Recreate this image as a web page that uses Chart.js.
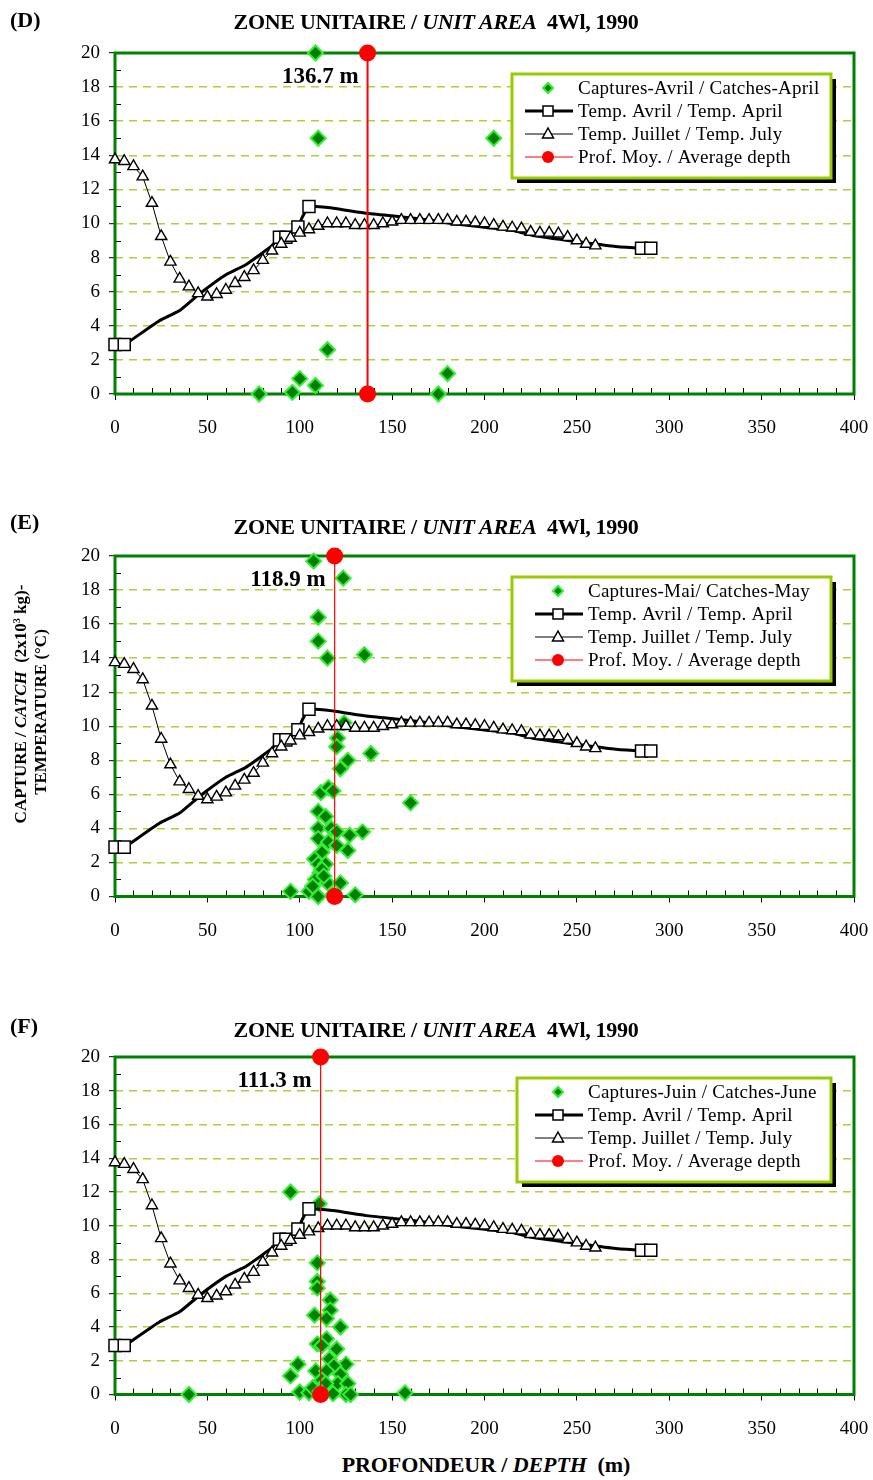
<!DOCTYPE html>
<html>
<head>
<meta charset="utf-8">
<title>Zone unitaire 4Wl, 1990</title>
<script src="https://cdn.jsdelivr.net/npm/chart.js@4/dist/chart.umd.min.js"></script>
<style>
  html, body { margin: 0; padding: 0; background: #fff; }
  #page { position: relative; width: 873px; height: 1480px; overflow: hidden;
          font-family: 'Liberation Serif', 'Times New Roman', serif; color: #000; }
  #page canvas { position: absolute; left: 0; }
  .lbl { position: absolute; white-space: nowrap; font-weight: bold; line-height: 1;
         transform: translate(-50%, -50%); z-index: 2; }
  .letter { font-size: 22px; transform: translate(0, -50%); }
  .title { font-size: 22px; letter-spacing: -0.3px; }
  .xtitle { font-size: 22px; letter-spacing: -0.1px; }
  .ytitle { font-size: 17px; transform: translate(-50%, -50%) rotate(-90deg); }
  sup { font-size: 10px; vertical-align: 6px; }
</style>
</head>
<body>
<div id="page">
  <div class="lbl letter" style="left:10px; top:20px;">(D)</div>
  <div class="lbl title" style="left:436px; top:22px;">ZONE UNITAIRE / <i>UNIT AREA</i>&nbsp; 4Wl, 1990</div>
  <canvas id="chartD" width="873" height="450" style="top:0px;"></canvas>

  <div class="lbl letter" style="left:10px; top:522px;">(E)</div>
  <div class="lbl title" style="left:436px; top:527px;">ZONE UNITAIRE / <i>UNIT AREA</i>&nbsp; 4Wl, 1990</div>
  <canvas id="chartE" width="873" height="450" style="top:500px;"></canvas>

  <div class="lbl letter" style="left:10px; top:1026px;">(F)</div>
  <div class="lbl title" style="left:436px; top:1030px;">ZONE UNITAIRE / <i>UNIT AREA</i>&nbsp; 4Wl, 1990</div>
  <canvas id="chartF" width="873" height="440" style="top:1000px;"></canvas>

  <div class="lbl ytitle" style="left:20px; top:704px;">CAPTURE / <i>CATCH</i>&nbsp; (2x10<sup>3</sup> kg)-</div>
  <div class="lbl ytitle" style="left:40px; top:712px;">TEMPERATURE (°C)</div>
  <div class="lbl xtitle" style="left:486px; top:1465px;">PROFONDEUR / <i>DEPTH</i>&nbsp; (m)</div>
</div>

<script>
// ---------- Temperature profiles (°C against depth in m) ----------
const aprilDepth = [0, 5, 8, 24, 35, 46, 60, 71, 85, 89, 92.5, 99, 101.5, 105,
                    118, 136, 154, 170, 182, 199, 215, 226, 253, 271, 285, 290];
const aprilTemp  = [2.9, 2.9, 3.1, 4.3, 4.9, 5.9, 7.0, 7.6, 8.7, 9.2, 9.2, 9.8, 10.4, 11.0,
                    10.9, 10.6, 10.4, 10.2, 10.0, 9.8, 9.6, 9.3, 8.9, 8.65, 8.55, 8.55];
// sampled stations of the April profile (shown with a square)
const aprilStations = [0, 5, 89, 92.5, 99, 105, 285, 290];

const julyDepth = [0, 5, 10, 15, 20, 25, 30, 35, 40, 45, 50, 55, 60, 65, 70, 75, 80, 85, 90, 95,
                   100, 105, 110, 115, 120, 125, 130, 135, 140, 145, 150, 155, 160, 165, 170, 175,
                   180, 185, 190, 195, 200, 205, 210, 215, 220, 225, 230, 235, 240, 245, 250, 255, 260];
const julyTemp  = [13.75, 13.65, 13.35, 12.75, 11.2, 9.25, 7.75, 6.75, 6.3, 5.9, 5.7, 5.85, 6.1, 6.5,
                   6.85, 7.25, 7.85, 8.4, 8.8, 9.15, 9.45, 9.65, 9.85, 10.0, 10.0, 10.0, 9.9, 9.9,
                   9.9, 10.0, 10.1, 10.2, 10.2, 10.2, 10.2, 10.2, 10.2, 10.1, 10.1, 10.05, 10.0,
                   9.9, 9.8, 9.75, 9.7, 9.5, 9.45, 9.45, 9.4, 9.2, 9.0, 8.8, 8.7];

// ---------- Catches (2x10^3 kg) against depth ----------
const catchAprilDepth = [108.5, 110, 205, 115, 100, 108.5, 78, 96, 175, 180];
const catchAprilValue = [20, 15, 15, 2.6, 0.9, 0.5, 0, 0.1, 0, 1.2];

const catchMayDepth = [107.5, 123.5, 110, 110, 115, 135, 124, 120.5, 120, 138.5, 126, 122, 111.5,
                       115.5, 118, 160, 110, 114, 110, 117, 120, 127, 134, 110, 115.5, 120, 126,
                       112, 108, 110, 114, 111, 108.5, 115, 122, 95, 105, 110, 130, 107, 118, 112, 113];
const catchMayValue = [19.7, 18.7, 16.4, 15, 14, 14.2, 10.2, 9.3, 8.8, 8.4, 8.0, 7.5, 6.1,
                       6.4, 6.2, 5.5, 5.0, 4.7, 4.0, 4.0, 3.8, 3.6, 3.8, 3.4, 3.2, 3.0, 2.7,
                       2.6, 2.2, 1.9, 1.9, 1.4, 1.0, 0.8, 0.8, 0.3, 0.3, 0, 0.1, 0.6, 0.1, 1.6, 1.2];

const catchJuneDepth = [95, 110.5, 109.5, 109.5, 109.5, 116.5, 116.5, 108, 114.5, 122, 114.5, 109.5,
                        112, 120, 116, 99, 125, 118.5, 108.7, 114.5, 122, 95, 112, 120.5, 126,
                        100, 105, 40, 157, 125, 127.5, 118, 114, 107, 111];
const catchJuneValue = [12.0, 11.3, 7.8, 6.7, 6.3, 5.6, 5.0, 4.7, 4.5, 4.0, 3.3, 3.0,
                        2.9, 2.7, 2.1, 1.8, 1.8, 1.7, 1.4, 1.4, 1.2, 1.1, 0.85, 0.65, 0.65,
                        0.15, 0.1, 0, 0.1, 0, 0, 0.05, 0.65, 0.4, 0.2];

// ---------- Average depth of catches (m) ----------
const meanDepth = [136.7, 118.9, 111.3];

// ---------- Series names ----------
const catchNames = ['Captures-Avril / Catches-April', 'Captures-Mai/ Catches-May', 'Captures-Juin / Catches-June'];
const aprilName = 'Temp. Avril / Temp. April';
const julyName = 'Temp. Juillet / Temp. July';
const meanName = 'Prof. Moy. / Average depth';

// ---------- Axis ranges ----------
const depthRange = [0, 400];
const depthStep = 50;
const valueRange = [0, 20];
const valueStep = 2;

// ---------- Drawing ----------
const SERIF = "'Liberation Serif', 'Times New Roman', serif";
const GREEN_DARK = '#007f00';
const GREEN_EDGE = '#33ee33';
const FRAME = '#008000';
const GRID = '#a9d13c';
const LEGEND_EDGE = '#99cc00';

const pts = (xs, ys) => xs.map((x, i) => ({ x: x, y: ys[i] }));

function diamond(ctx, x, y, r) {
  ctx.beginPath();
  ctx.moveTo(x, y - r); ctx.lineTo(x + r, y); ctx.lineTo(x, y + r); ctx.lineTo(x - r, y);
  ctx.closePath();
  ctx.fillStyle = GREEN_DARK; ctx.fill();
  ctx.lineWidth = 2; ctx.strokeStyle = GREEN_EDGE; ctx.stroke();
}

const decor = {
  id: 'decor',
  beforeDatasetsDraw(chart) {
    const { ctx, chartArea: a, scales: { x, y } } = chart;
    ctx.save();
    ctx.strokeStyle = '#000';
    ctx.lineWidth = 1;
    ctx.beginPath();
    for (let v = valueRange[0] + 1; v < valueRange[1]; v += valueStep) {
      const py = Math.round(y.getPixelForValue(v)) + 0.5;
      ctx.moveTo(a.left, py); ctx.lineTo(a.left + 6, py);
    }
    for (let d = depthRange[0] + 10; d < depthRange[1]; d += 10) {
      if (d % depthStep === 0) continue;
      const px = Math.round(x.getPixelForValue(d)) + 0.5;
      ctx.moveTo(px, a.bottom); ctx.lineTo(px, a.bottom - 6);
    }
    ctx.stroke();
    ctx.strokeStyle = FRAME;
    ctx.lineWidth = 3;
    ctx.strokeRect(a.left, a.top, a.right - a.left, a.bottom - a.top);
    ctx.restore();
  },
  afterDraw(chart, args, opts) {
    const { ctx, chartArea: a, scales: { x, y } } = chart;
    const ds = chart.data.datasets;
    ctx.save();

    // average-depth label beside the red line
    ctx.font = "bold 23px " + SERIF;
    ctx.fillStyle = '#000';
    ctx.textAlign = 'right';
    ctx.textBaseline = 'middle';
    ctx.fillText(opts.mean.toFixed(1) + ' m', x.getPixelForValue(opts.mean) - 9, y.getPixelForValue(18.6));

    // legend box with drop shadow
    const bx = opts.boxLeft, by = a.top + 21, bw = a.right - 23 - opts.boxLeft, bh = 104;
    ctx.fillStyle = '#000';
    ctx.fillRect(bx + 5, by + 5, bw, bh);
    ctx.fillStyle = '#fff';
    ctx.fillRect(bx, by, bw, bh);
    ctx.strokeStyle = LEGEND_EDGE;
    ctx.lineWidth = 3;
    ctx.strokeRect(bx, by, bw, bh);

    const tx = opts.textX;
    const mx = tx - 30;
    const rows = [by + 14, by + 37, by + 60, by + 83];

    // catches
    diamond(ctx, mx, rows[0], 5);
    // April temperature
    ctx.strokeStyle = '#000'; ctx.lineWidth = 3;
    ctx.beginPath(); ctx.moveTo(tx - 53, rows[1]); ctx.lineTo(tx - 5, rows[1]); ctx.stroke();
    ctx.fillStyle = '#fff'; ctx.lineWidth = 1.5;
    ctx.fillRect(mx - 5, rows[1] - 5, 10, 10); ctx.strokeRect(mx - 5, rows[1] - 5, 10, 10);
    // July temperature
    ctx.lineWidth = 1;
    ctx.beginPath(); ctx.moveTo(tx - 53, rows[2]); ctx.lineTo(tx - 5, rows[2]); ctx.stroke();
    ctx.beginPath();
    ctx.moveTo(mx, rows[2] - 6); ctx.lineTo(mx + 5.5, rows[2] + 4); ctx.lineTo(mx - 5.5, rows[2] + 4); ctx.closePath();
    ctx.fillStyle = '#fff'; ctx.fill(); ctx.lineWidth = 1.5; ctx.stroke();
    // average depth
    ctx.strokeStyle = '#ff0000'; ctx.lineWidth = 1;
    ctx.beginPath(); ctx.moveTo(tx - 53, rows[3]); ctx.lineTo(tx - 5, rows[3]); ctx.stroke();
    ctx.fillStyle = '#ff0000';
    ctx.beginPath(); ctx.arc(mx, rows[3], 6, 0, Math.PI * 2); ctx.fill();

    ctx.font = "19px " + SERIF;
    ctx.letterSpacing = '0.25px';
    ctx.textAlign = 'left';
    ctx.textBaseline = 'middle';
    ctx.fillStyle = '#000';
    for (let i = 0; i < 4; i++) ctx.fillText(ds[i].label, tx, rows[i] + 1);
    ctx.letterSpacing = '0px';
    ctx.restore();
  }
};

function makePanel(canvasId, layout, catchName, catchDepth, catchValue, mean) {
  const canvas = document.getElementById(canvasId);
  return new Chart(canvas, {
    type: 'scatter',
    data: {
      datasets: [
        {
          label: catchName,
          data: pts(catchDepth, catchValue),
          showLine: false,
          pointStyle: 'rectRot',
          pointRadius: 7.5,
          pointBackgroundColor: GREEN_DARK,
          pointBorderColor: GREEN_EDGE,
          pointBorderWidth: 2,
          clip: false,
          order: 4
        },
        {
          label: aprilName,
          data: pts(aprilDepth, aprilTemp),
          showLine: true,
          borderColor: '#000',
          borderWidth: 3,
          tension: 0.15,
          pointStyle: 'rect',
          pointRadius: aprilDepth.map(d => aprilStations.includes(d) ? 8.5 : 0),
          pointBackgroundColor: '#fff',
          pointBorderColor: '#000',
          pointBorderWidth: 1.5,
          clip: false,
          order: 3
        },
        {
          label: julyName,
          data: pts(julyDepth, julyTemp),
          showLine: true,
          borderColor: '#000',
          borderWidth: 1,
          pointStyle: 'triangle',
          pointRadius: 6.5,
          pointBackgroundColor: '#fff',
          pointBorderColor: '#000',
          pointBorderWidth: 1.4,
          clip: false,
          order: 2
        },
        {
          label: meanName,
          data: [{ x: mean, y: valueRange[0] }, { x: mean, y: valueRange[1] }],
          showLine: true,
          borderColor: '#ff0000',
          borderWidth: layout.meanWidth,
          pointStyle: 'circle',
          pointRadius: 8.5,
          pointBackgroundColor: '#ff0000',
          pointBorderColor: '#ff0000',
          pointBorderWidth: 0,
          clip: false,
          order: 1
        }
      ]
    },
    options: {
      responsive: false,
      animation: false,
      devicePixelRatio: 1,
      events: [],
      layout: {
        padding: {
          left: 0,
          right: 19,
          top: layout.areaTop,
          bottom: canvas.height - layout.areaBottom - 40
        }
      },
      scales: {
        x: {
          type: 'linear',
          min: depthRange[0], max: depthRange[1],
          // fixed band height; end labels may overhang into the page margin
          afterFit: s => { s.height = 40; s.paddingLeft = 0; s.paddingRight = 0; },
          ticks: { stepSize: depthStep, autoSkip: false, maxRotation: 0, padding: 17,
                   color: '#000', font: { family: SERIF, size: 19 } },
          grid: { drawOnChartArea: false, drawTicks: true, tickLength: 6, tickColor: '#000', tickWidth: 1 },
          border: { display: false }
        },
        y: {
          type: 'linear',
          min: valueRange[0], max: valueRange[1],
          afterFit: s => { s.width = 115; },
          ticks: { stepSize: valueStep, autoSkip: false, padding: 9,
                   color: '#000', font: { family: SERIF, size: 19 } },
          grid: {
            drawOnChartArea: true,
            drawTicks: true, tickLength: 6, tickColor: '#000', tickWidth: 1,
            lineWidth: 1.4,
            color: c => (c.tick && (c.tick.value === valueRange[0] || c.tick.value === valueRange[1])) ? 'rgba(0,0,0,0)' : GRID
          },
          border: { display: false, dash: [8, 6] }
        }
      },
      plugins: {
        legend: { display: false },
        tooltip: { enabled: false },
        title: { display: false },
        decor: { mean: mean, boxLeft: layout.boxLeft, textX: layout.textX }
      }
    },
    plugins: [decor]
  });
}

makePanel('chartD', { areaTop: 53, areaBottom: 394, boxLeft: 512, textX: 578, meanWidth: 2 },
          catchNames[0], catchAprilDepth, catchAprilValue, meanDepth[0]);
makePanel('chartE', { areaTop: 56, areaBottom: 396.5, boxLeft: 512, textX: 588, meanWidth: 1.2 },
          catchNames[1], catchMayDepth, catchMayValue, meanDepth[1]);
makePanel('chartF', { areaTop: 57, areaBottom: 394.5, boxLeft: 517, textX: 588, meanWidth: 1.2 },
          catchNames[2], catchJuneDepth, catchJuneValue, meanDepth[2]);
</script>
</body>
</html>
